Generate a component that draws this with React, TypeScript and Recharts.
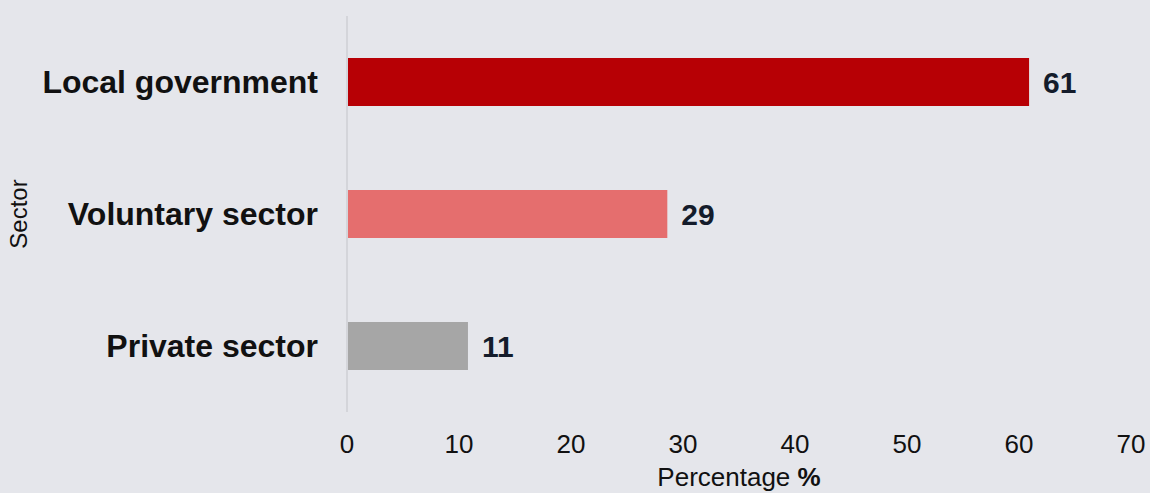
import React from 'react';
import { BarChart, Bar, XAxis, YAxis, Cell, LabelList, Label } from 'recharts';

const categories = ['Local government', 'Voluntary sector', 'Private sector'];
const values = [60.9, 28.6, 10.8];
const colors = ['#b70005', '#e56e6e', '#a6a6a6'];
const xTicks = [0, 10, 20, 30, 40, 50, 60, 70];

const data = categories.map((name, i) => ({ name, value: values[i] }));

const BG = '#e5e6eb';
const FONT = "'Liberation Sans', Arial, sans-serif";

const XLabel = (props: any) => {
  const vb = props.viewBox || {};
  const cx = vb.x + vb.width / 2;
  return (
    <text x={cx} y={486} textAnchor="middle" fontSize={26} fill="#111" fontFamily={FONT}>
      Percentage <tspan fontWeight="bold">%</tspan>
    </text>
  );
};

const YLabel = (props: any) => {
  const vb = props.viewBox || {};
  const cy = vb.y + vb.height / 2;
  return (
    <text x={27} y={cy} transform={`rotate(-90, 27, ${cy})`} textAnchor="middle" fontSize={24} fill="#111" fontFamily={FONT}>
      Sector
    </text>
  );
};

export default function App() {
  return (
    <div style={{ width: 1150, height: 493, background: BG, fontFamily: FONT }}>
      <style>{'body{margin:0;}'}</style>
      <BarChart
        width={1150}
        height={493}
        data={data}
        layout="vertical"
        margin={{ top: 16, right: 19, bottom: 0, left: 0 }}
        barCategoryGap={0}
      >
        <XAxis
          type="number"
          domain={[0, 70]}
          ticks={xTicks}
          axisLine={false}
          tickLine={false}
          tickSize={0}
          tickMargin={23}
          height={81}
          interval={0}
          tick={{ fontSize: 26, fill: '#111', fontFamily: FONT }}
        >
          <Label content={XLabel} />
        </XAxis>
        <YAxis
          type="category"
          dataKey="name"
          width={347}
          tickLine={false}
          tickSize={0}
          tickMargin={29}
          axisLine={{ stroke: '#d4d5da', strokeWidth: 2 }}
          tick={{ fontSize: 32, fontWeight: 'bold', fill: '#111', fontFamily: FONT }}
        >
          <Label content={YLabel} />
        </YAxis>
        <Bar dataKey="value" barSize={48} isAnimationActive={false}>
          {data.map((d, i) => (
            <Cell key={d.name} fill={colors[i]} />
          ))}
          <LabelList
            dataKey="value"
            position="right"
            offset={14}
            formatter={(v: any) => Math.round(Number(v))}
            style={{ fontSize: 30, fontWeight: 'bold', fill: '#141c2b', fontFamily: FONT }}
          />
        </Bar>
      </BarChart>
    </div>
  );
}
